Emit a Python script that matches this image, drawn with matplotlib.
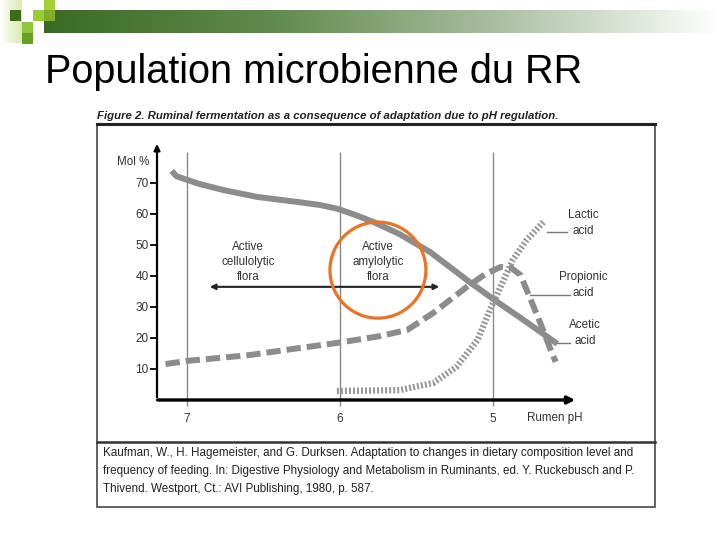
import numpy as np
import matplotlib
matplotlib.use("Agg")
import matplotlib.pyplot as plt
from matplotlib.patches import Rectangle, Ellipse
from matplotlib.colors import LinearSegmentedColormap

# ---------------- data ----------------
acetic_ph = [7.10, 7.07, 6.92, 6.76, 6.54, 6.28, 6.13, 6.01, 5.90, 5.78, 5.61, 5.41, 5.17, 5.00, 4.82, 4.65, 4.58]
acetic_mol = [73.9, 72.2, 69.7, 67.7, 65.5, 63.9, 62.9, 61.6, 59.7, 57.4, 53.5, 47.7, 38.7, 32.6, 26.5, 20.6, 18.1]

propionic_ph = [7.14, 7.00, 6.59, 6.26, 6.02, 5.74, 5.56, 5.39, 5.17, 5.05, 4.95, 4.88, 4.82, 4.76, 4.69, 4.63, 4.59]
propionic_mol = [11.6, 12.6, 14.5, 16.8, 18.4, 20.6, 22.6, 28.1, 36.5, 40.6, 42.9, 42.6, 40.3, 33.2, 24.8, 17.1, 12.3]

lactic_ph = [6.02, 5.61, 5.39, 5.24, 5.10, 5.02, 4.95, 4.87, 4.78, 4.67]
lactic_mol = [2.9, 3.2, 5.5, 10.6, 19.4, 29.0, 36.5, 45.2, 51.6, 57.4]

y_ticks = [10, 20, 30, 40, 50, 60, 70]
x_ticks = [7, 6, 5]

title = "Population microbienne du RR"
fig_caption = "Figure 2. Ruminal fermentation as a consequence of adaptation due to pH regulation."
reference = ["Kaufman, W., H. Hagemeister, and G. Durksen. Adaptation to changes in dietary composition level and",
             "frequency of feeding. In: Digestive Physiology and Metabolism in Ruminants, ed. Y. Ruckebusch and P.",
             "Thivend. Westport, Ct.: AVI Publishing, 1980, p. 587."]

font = 'Liberation Sans'
gray = '#8c8c8c'
tc = '#333333'

fig = plt.figure(figsize=(7.2, 5.4), dpi=100)
renderer = fig.canvas.get_renderer()

def fit(t, width):
    # shrink/grow a text so it spans the given width in pixels
    w = t.get_window_extent(renderer).width
    t.set_fontsize(t.get_fontsize() * width / w)
    return t

#------------------- slide background (pixel coords) -------------------
bg = fig.add_axes([0, 0, 1, 1], zorder=0)
bg.set_xlim(0, 720)
bg.set_ylim(540, 0)
bg.axis('off')

# green gradient bar
grad = LinearSegmentedColormap.from_list('g', ['#3b6b22', '#5f8a4c', '#a9bea0', '#ffffff'])
bg.imshow(np.linspace(0, 1, 256).reshape(1, -1), cmap=grad, aspect='auto',
          extent=(44, 720, 33, 10), zorder=1)
# little squares
bg.imshow(np.linspace(0, 1, 64).reshape(1, -1), aspect='auto', zorder=1,
          cmap=LinearSegmentedColormap.from_list('y', ['#ffffff', '#dbeab0']), extent=(0, 22, 43, 0))
for (x, y, c) in [(10, 10, '#3d6b1a'), (33, 10, '#99cc33'), (44, 0, '#a6d037'),
                  (44, 10, '#7fae2a'), (22, 22, '#8cc63f'), (22, 33, '#6b9e1f')]:
    bg.add_patch(Rectangle((x, y), 11, 11, color=c, lw=0, zorder=2))

fit(bg.text(45, 72, title, fontsize=28, family=font, va='center', ha='left'), 538)

# figure box
fit(bg.text(97, 116, fig_caption, fontsize=9, family=font, weight='bold', style='italic',
            va='center', ha='left', color='#222222'), 463)
bg.add_patch(Rectangle((97, 124), 558, 383, fill=False, ec='#555555', lw=1.3, zorder=2))
bg.plot([97, 655], [124, 124], color='#222222', lw=2.2, zorder=3)
bg.plot([97, 655], [442, 442], color='#333333', lw=1.8, zorder=3)
ref_texts = [bg.text(103, 453 + 18 * i, line, fontsize=9, family=font, va='center', ha='left',
                     color='#222222') for i, line in enumerate(reference)]
fit(ref_texts[0], 529)
for t in ref_texts[1:]:
    t.set_fontsize(ref_texts[0].get_fontsize())

# curve labels
lab = dict(fontsize=8.4, family=font, va='center', ha='center', color=tc, linespacing=1.35)
bg.text(133, 162, "Mol %", **lab)
bg.text(555, 418, "Rumen pH", **lab)
bg.text(248, 262, "Active\ncellulolytic\nflora", **lab)
bg.text(378, 262, "Active\namylolytic\nflora", **lab)
bg.text(583, 223, "Lactic\nacid", **lab)
bg.text(583, 285, "Propionic\nacid", **lab)
bg.text(585, 333, "Acetic\nacid", **lab)
bg.plot([547, 567], [232, 232], color='#777777', lw=1)
bg.plot([530, 570], [295, 295], color='#777777', lw=1)
bg.plot([557, 570], [343, 343], color='#777777', lw=1)

#------------------- chart axes -------------------
ax = fig.add_axes([157 / 720, 140 / 540, 421 / 720, 257 / 540], zorder=1)
ax.patch.set_alpha(0)
ax.set_xlim(7.196, 4.444)
ax.set_ylim(0, 82.9)
for s in ax.spines.values():
    s.set_visible(False)

ax.vlines(x_ticks, -2, 80, color='#8a8a8a', lw=1, clip_on=False)

ax.plot(acetic_ph, acetic_mol, color=gray, lw=4.3, solid_capstyle='butt')
ax.plot(propionic_ph, propionic_mol, color=gray, lw=4.3, linestyle=(0, (2.4, 1.0)), dash_capstyle='butt')
ax.plot(lactic_ph, lactic_mol, color='#959595', lw=4.6, linestyle=(0, (0.3, 0.33)), dash_capstyle='butt')

ax.add_patch(Ellipse((5.752, 41.9), 0.627, 31, fill=False, ec='#ea7424', lw=2.3, zorder=5))

# axes arrows
ax.annotate('', xy=(7.196, 83.5), xytext=(7.196, 0), annotation_clip=False,
            arrowprops=dict(arrowstyle='-|>', color='black', lw=1.6, mutation_scale=9))
ax.annotate('', xy=(4.444, 0), xytext=(7.21, 0), annotation_clip=False,
            arrowprops=dict(arrowstyle='-|>', color='black', lw=2.4, mutation_scale=11))
ax.annotate('', xy=(6.869, 36.5), xytext=(5.333, 36.5),
            arrowprops=dict(arrowstyle='<|-|>', color='#222222', lw=1.5, mutation_scale=8))

ax.set_yticks(y_ticks)
ax.set_yticklabels([str(v) for v in y_ticks], family=font, fontsize=8.5, color=tc)
ax.tick_params(axis='y', direction='out', length=5, width=1.3, pad=1)
ax.set_xticks(x_ticks)
ax.set_xticklabels([str(v) for v in x_ticks], family=font, fontsize=8.5, color=tc)
ax.tick_params(axis='x', length=0, pad=9)

fig.savefig("out.png", dpi=100)
